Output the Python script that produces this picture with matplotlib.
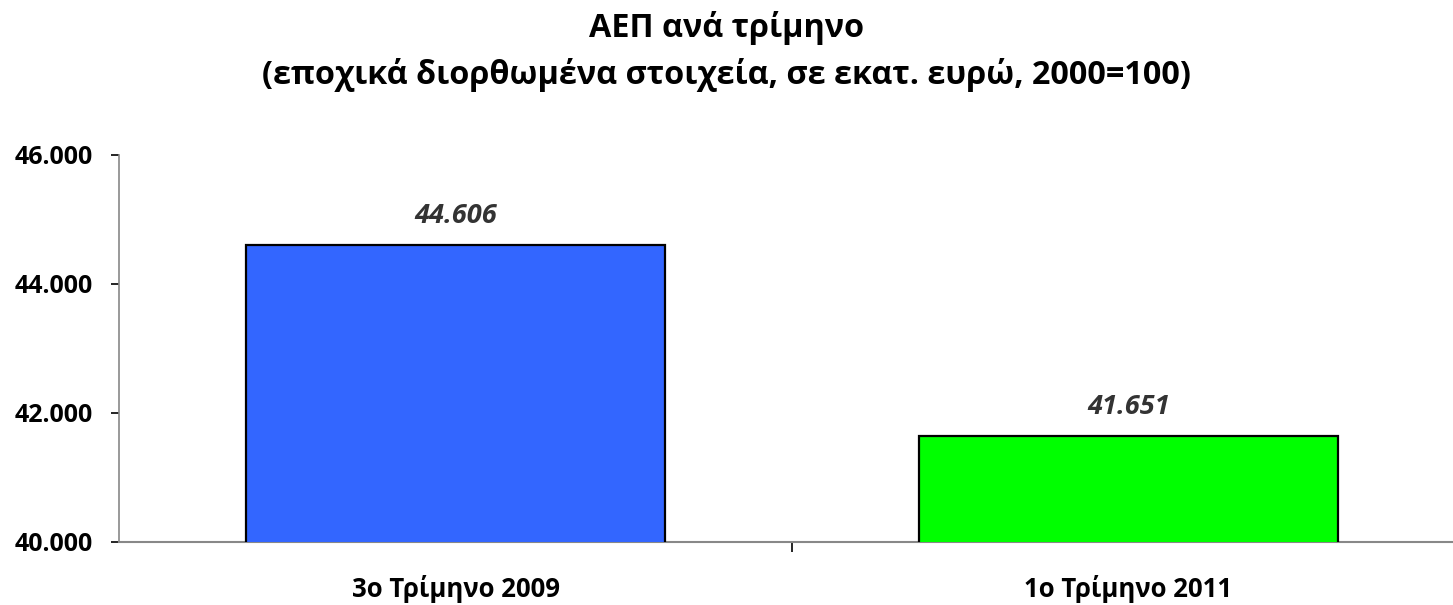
import matplotlib
matplotlib.use('Agg')
import matplotlib.pyplot as plt
from matplotlib.ticker import FuncFormatter

# Δεδομένα
categories = ['3ο Τρίμηνο 2009', '1ο Τρίμηνο 2011']
values = [44606, 41651]
bar_colors = ['#3366FF', '#00FF00']
yticks = [40000, 42000, 44000, 46000]

plt.rcParams['font.family'] = ['Open Sans', 'DejaVu Sans']


def greek_thousands(v, pos=None):
    return f"{v:,.0f}".replace(',', '.')


fig = plt.figure(figsize=(14.53, 6.05), dpi=100)
ax = fig.add_axes([119 / 1453, 1 - 542 / 605, 1346 / 1453, 387 / 605])

x = list(range(len(categories)))
ax.bar(x, values, width=0.624, color=bar_colors, edgecolor='black', linewidth=1.6, zorder=3)

for xi, v in zip(x, values):
    ax.text(xi, v + 340, greek_thousands(v), ha='center', va='baseline',
            fontsize=19.5, fontweight='bold', fontstyle='italic', color='#333333')

ax.set_xlim(-0.5, len(categories) - 0.5)
ax.set_ylim(40000, 46000)
ax.set_yticks(yticks)
ax.yaxis.set_major_formatter(FuncFormatter(greek_thousands))

# κατηγορίες: ετικέτες στο κέντρο, γραμμές-ticks στα όρια
ax.set_xticks([i + 0.5 for i in x[:-1]])
ax.set_xticklabels([])
ax.set_xticks(x, minor=True)
ax.set_xticklabels(categories, minor=True, fontsize=18.5, fontweight='bold')
ax.tick_params(axis='x', which='minor', length=0, pad=24)
ax.tick_params(axis='x', which='major', length=7, width=1.2, color='black')
ax.tick_params(axis='y', length=6, width=1.2, color='black', labelsize=18, pad=13)
for lbl in ax.get_yticklabels():
    lbl.set_fontweight('bold')

for s in ['top', 'right']:
    ax.spines[s].set_visible(False)
ax.spines['left'].set_color('#888888')
ax.spines['bottom'].set_color('#888888')
ax.spines['left'].set_linewidth(1.2)
ax.spines['bottom'].set_linewidth(1.5)

fig.text(0.5, 1 - 37 / 605, 'ΑΕΠ ανά τρίμηνο', ha='center', va='baseline',
         fontsize=23.3, fontweight='bold')
fig.text(0.5, 1 - 84 / 605, '(εποχικά διορθωμένα στοιχεία, σε εκατ. ευρώ, 2000=100)',
         ha='center', va='baseline', fontsize=23.3, fontweight='bold')

fig.savefig('out.png', dpi=100)
plt.close()
